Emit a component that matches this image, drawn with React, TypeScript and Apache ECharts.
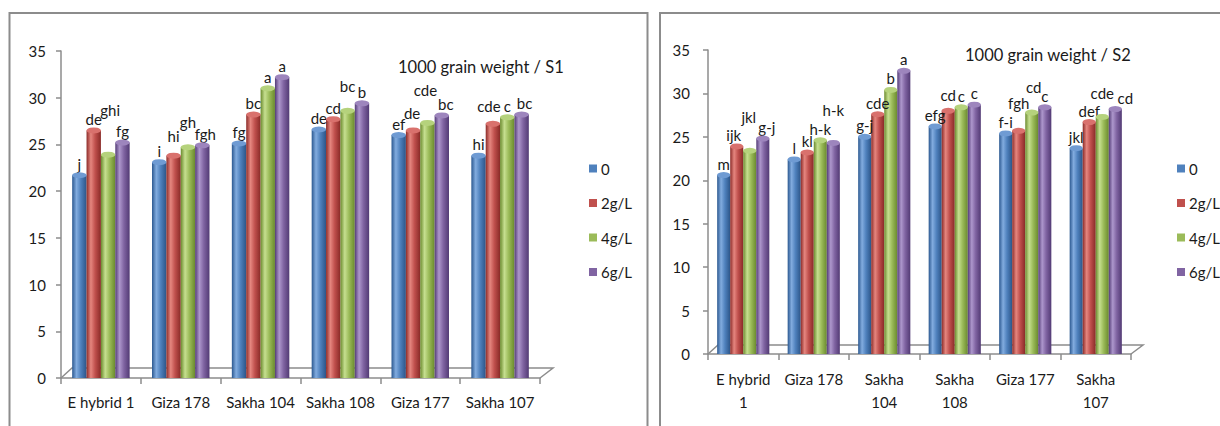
import React, { useEffect, useRef } from "react";
import * as echarts from "echarts";

// Cultivars on the category axis
const categories = ["E hybrid 1", "Giza 178", "Sakha 104", "Sakha 108", "Giza 177", "Sakha 107"];
const categoriesWrapped = ["E hybrid\n1", "Giza 178", "Sakha\n104", "Sakha\n108", "Giza 177", "Sakha\n107"];

// Treatments
const treatments = ["0", "2g/L", "4g/L", "6g/L"];

// 1000 grain weight (g), season 1
const s1_0 = [21.7, 23.1, 25.1, 26.6, 26.0, 23.8];
const s1_2 = [26.5, 23.8, 28.2, 27.7, 26.5, 27.2];
const s1_4 = [23.9, 24.7, 31.0, 28.6, 27.3, 27.9];
const s1_6 = [25.2, 24.9, 32.2, 29.4, 28.1, 28.2];

// Significance letters, season 1
const s1_0_sig = ["j", "i", "fg", "de", "ef", "hi"];
const s1_2_sig = ["de", "hi", "bc", "cd", "de", "cde"];
const s1_4_sig = ["ghi", "gh", "a", "bc", "cde", "c"];
const s1_6_sig = ["fg", "fgh", "a", "b", "bc", "bc"];

// 1000 grain weight (g), season 2
const s2_0 = [20.6, 22.4, 25.0, 26.2, 25.4, 23.7];
const s2_2 = [23.9, 23.2, 27.6, 28.0, 25.7, 26.7];
const s2_4 = [23.4, 24.6, 30.4, 28.4, 27.8, 27.3];
const s2_6 = [24.8, 24.3, 32.6, 28.7, 28.4, 28.2];

// Significance letters, season 2
const s2_0_sig = ["m", "l", "g-j", "efg", "f-i", "jkl"];
const s2_2_sig = ["ijk", "kl", "cde", "cd", "fgh", "def"];
const s2_4_sig = ["jkl", "h-k", "b", "c", "cd", "cde"];
const s2_6_sig = ["g-j", "h-k", "a", "c", "c", "cd"];

// Axis ticks
const yMin = 0;
const yMax = 35;
const yStep = 5;

// Label staggering so that neighbouring letters do not collide,
// keyed "grid-treatment-category" -> [dx, dy] in pixels
const labelNudge: Record<string, [number, number]> = {
  "0-2-0": [2, -33],
  "0-1-1": [0, -8],
  "0-2-1": [0, -14],
  "0-3-1": [3, 0],
  "0-2-3": [0, -13],
  "0-1-4": [-1, -6],
  "0-2-4": [-2, -21],
  "0-3-4": [4, 0],
  "0-1-5": [-4, -6],
  "0-3-5": [3, 0],
  "1-1-0": [-3, 0],
  "1-2-0": [-1, -22],
  "1-3-0": [4, 0],
  "1-3-1": [0, -21],
  "1-1-3": [0, -4],
  "1-1-4": [0, -16],
  "1-2-4": [2, -14],
  "1-2-5": [0, -12],
  "1-3-5": [10, 0],
};

const FONT = "Lato, 'Liberation Sans', sans-serif";
const TEXT = "#1a1a1a";
const AXIS = "#8c8c8c";

// Cylinder shading for each treatment: [edge, highlight, body, edge], plus top cap
const shades = [
  { base: "#4F81BD", stops: ["#2b5890", "#82acdf", "#4f81bd", "#2c5588"], cap: "#6f9bd3" },
  { base: "#C0504D", stops: ["#8c2b28", "#e5867f", "#c0504d", "#892a27"], cap: "#d9716d" },
  { base: "#9BBB59", stops: ["#6b8b2e", "#c6df90", "#9bbb59", "#6a8a2d"], cap: "#b5d27c" },
  { base: "#8064A2", stops: ["#533b76", "#ad97cc", "#8064a2", "#523a74"], cap: "#9d85bd" },
];

const cylinder = (s: string[]) =>
  new echarts.graphic.LinearGradient(0, 0, 1, 0, [
    { offset: 0, color: s[0] },
    { offset: 0.3, color: s[1] },
    { offset: 0.6, color: s[2] },
    { offset: 1, color: s[3] },
  ]);

function buildSeries(gi: number, values: number[][], sigs: string[][], gap: string) {
  const out: any[] = [];
  values.forEach((vals, i) => {
    out.push({
      type: "bar",
      name: treatments[i],
      xAxisIndex: gi,
      yAxisIndex: gi,
      data: vals.map((v, c) => {
        const nudge = labelNudge[`${gi}-${i}-${c}`];
        return nudge ? { value: v, label: { offset: nudge } } : v;
      }),
      barGap: "0%",
      barCategoryGap: gap,
      itemStyle: { color: cylinder(shades[i].stops) },
      label: {
        show: true,
        position: "top",
        distance: 4,
        formatter: (p: any) => sigs[i][p.dataIndex],
        fontFamily: FONT,
        fontSize: 15,
        color: TEXT,
      },
    });
  });
  values.forEach((vals, i) => {
    out.push({
      type: "pictorialBar",
      name: treatments[i],
      xAxisIndex: gi,
      yAxisIndex: gi,
      data: vals,
      barGap: "0%",
      barCategoryGap: gap,
      symbol: "circle",
      symbolSize: ["100%", 6],
      symbolPosition: "end",
      symbolOffset: [0, "-50%"],
      itemStyle: { color: shades[i].cap },
      silent: true,
      z: 3,
    });
  });
  return out;
}

function xAxisFor(gi: number, labels: string[], margin: number) {
  return {
    type: "category",
    gridIndex: gi,
    data: labels,
    axisLine: { lineStyle: { color: AXIS, width: 1.5 } },
    axisTick: { show: true, length: 6, lineStyle: { color: AXIS, width: 1.5 } },
    axisLabel: {
      fontFamily: FONT,
      fontSize: 15,
      color: TEXT,
      margin,
      lineHeight: 23,
      interval: 0,
    },
  };
}

function yAxisFor(gi: number, margin: number) {
  return {
    type: "value",
    gridIndex: gi,
    min: yMin,
    max: yMax,
    interval: yStep,
    axisLine: { show: true, lineStyle: { color: AXIS, width: 1.5 } },
    axisTick: { show: true, length: 5, lineStyle: { color: AXIS, width: 1.5 } },
    splitLine: { show: false },
    axisLabel: { fontFamily: FONT, fontSize: 15, color: TEXT, margin },
  };
}

function floor(x0: number, x1: number, y: number, dx0: number, dx1: number, dy: number) {
  return {
    type: "polyline",
    silent: true,
    z: 0,
    shape: {
      points: [
        [x0, y],
        [x0 + dx0, y - dy],
        [x1 + dx1, y - dy],
        [x1, y],
      ],
    },
    style: { stroke: AXIS, lineWidth: 1.5, fill: "none" },
  };
}

export default function App() {
  const ref = useRef<HTMLDivElement>(null);

  useEffect(() => {
    if (!ref.current) return;
    const chart = echarts.init(ref.current, null, { renderer: "svg" });

    const legendCommon = {
      orient: "vertical",
      icon: "rect",
      itemWidth: 8,
      itemHeight: 8,
      itemGap: 19.5,
      padding: 0,
      data: treatments.map((n, i) => ({ name: n, itemStyle: { color: shades[i].base } })),
      textStyle: { fontFamily: FONT, fontSize: 15, color: TEXT, padding: [0, 0, 0, -1] },
      selectedMode: false,
    };

    const titleStyle = { fontFamily: FONT, fontSize: 16.5, fontWeight: "normal", color: TEXT };

    chart.setOption({
      animation: false,
      backgroundColor: "#ffffff",
      title: [
        { text: "1000 grain weight / S1", left: 398, top: 58, padding: 0, textStyle: titleStyle },
        { text: "1000 grain weight / S2", left: 965, top: 46, padding: 0, textStyle: titleStyle },
      ],
      legend: [
        { ...legendCommon, left: 589, top: 161 },
        { ...legendCommon, left: 1177, top: 161 },
      ],
      grid: [
        { left: 61, right: 680, top: 51, bottom: 48 },
        { left: 708, right: 89, top: 50, bottom: 72 },
      ],
      xAxis: [xAxisFor(0, categories, 12), xAxisFor(1, categoriesWrapped, 13)],
      yAxis: [yAxisFor(0, 15), yAxisFor(1, 18)],
      series: [
        ...buildSeries(0, [s1_0, s1_2, s1_4, s1_6], [s1_0_sig, s1_2_sig, s1_4_sig, s1_6_sig], "28%"),
        ...buildSeries(1, [s2_0, s2_2, s2_4, s2_6], [s2_0_sig, s2_2_sig, s2_4_sig, s2_6_sig], "26%"),
      ],
      graphic: [
        // panel frames
        {
          type: "rect",
          silent: true,
          shape: { x: 9.5, y: 13, width: 638, height: 430 },
          style: { stroke: AXIS, lineWidth: 2, fill: "none" },
        },
        {
          type: "rect",
          silent: true,
          shape: { x: 660, y: 13, width: 600, height: 430 },
          style: { stroke: AXIS, lineWidth: 2, fill: "none" },
        },
        // perspective floors under the bars
        floor(61, 540, 378, 11, 13, 10),
        floor(708, 1131, 354, 10, 12, 9),
      ],
    });

    return () => chart.dispose();
  }, []);

  return (
    <div
      ref={ref}
      style={{ position: "fixed", left: 0, top: 0, width: 1220, height: 426, background: "#fff" }}
    />
  );
}
